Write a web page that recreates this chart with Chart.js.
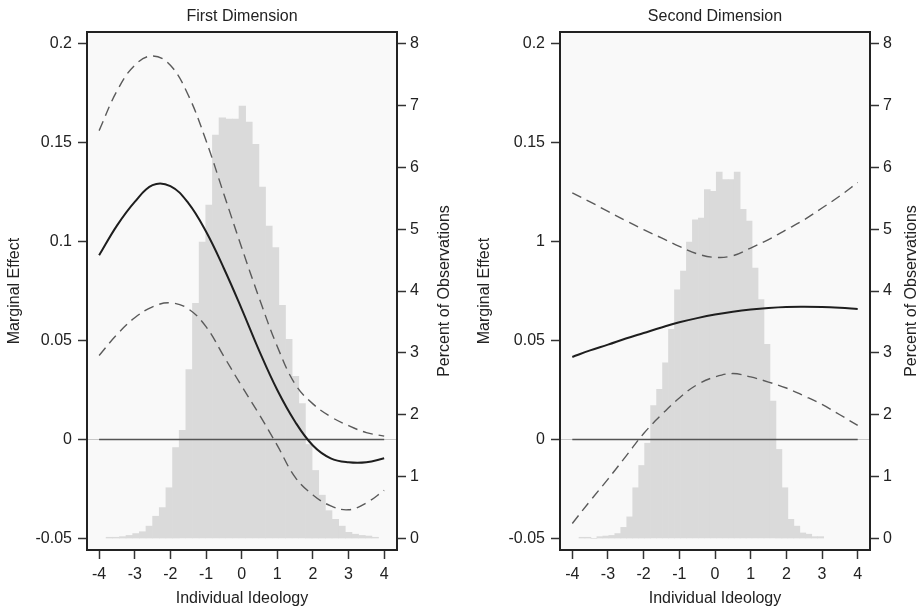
<!DOCTYPE html>
<html>
<head>
<meta charset="utf-8">
<script src="https://cdn.jsdelivr.net/npm/chart.js@4.4.0/dist/chart.umd.min.js"></script>
<style>
  body { margin: 0; background: #fff; width: 922px; height: 613px; overflow: hidden; }
  canvas { position: absolute; top: 0; }
  #chart-first { left: 0; }
  #chart-second { left: 461px; }
</style>
</head>
<body>
<canvas id="chart-first" width="461" height="613"></canvas>
<canvas id="chart-second" width="461" height="613"></canvas>
<script>
// ideology values where the curves were read
const ideology = [-4, -3.5, -3, -2.5, -2, -1.5, -1, -0.5, 0, 0.5, 1, 1.5, 2, 2.5, 3, 3.5, 4]

// first dimension: marginal effect and its bounds
const firstEffect = [0.093, 0.108, 0.120, 0.1285, 0.128, 0.1195, 0.105, 0.0865, 0.066, 0.0445, 0.025, 0.009, -0.003, -0.0095, -0.0115, -0.0115, -0.0095]
const firstUpper = [0.156, 0.176, 0.189, 0.1937, 0.189, 0.174, 0.151, 0.124, 0.097, 0.071, 0.047, 0.028, 0.018, 0.0115, 0.007, 0.0035, 0.0017]
const firstLower = [0.0424, 0.053, 0.0615, 0.067, 0.069, 0.066, 0.057, 0.042, 0.027, 0.0125, -0.003, -0.019, -0.028, -0.0335, -0.0355, -0.032, -0.0257]

// second dimension
const secondEffect = [0.0417, 0.045, 0.0479, 0.051, 0.0538, 0.0566, 0.0592, 0.0613, 0.0631, 0.0645, 0.0656, 0.0664, 0.0669, 0.067, 0.0669, 0.0665, 0.0659]
const secondUpper = [0.1245, 0.120, 0.1152, 0.1105, 0.106, 0.1018, 0.0975, 0.0938, 0.092, 0.0928, 0.0967, 0.101, 0.106, 0.111, 0.1169, 0.123, 0.1298]
const secondLower = [-0.0424, -0.031, -0.020, -0.0085, 0.003, 0.0125, 0.021, 0.0277, 0.0316, 0.0333, 0.0316, 0.029, 0.026, 0.022, 0.0177, 0.0125, 0.0071]

// histograms (bin centres, percent of observations)
const firstBins = [-3.711, -3.525, -3.338, -3.152, -2.965, -2.779, -2.592, -2.406, -2.219, -2.033, -1.846, -1.660, -1.473, -1.287, -1.100, -0.914, -0.727, -0.541, -0.354, -0.168, 0.019, 0.205, 0.392, 0.578, 0.765, 0.951, 1.138, 1.324, 1.511, 1.697, 1.884, 2.070, 2.257, 2.443, 2.630, 2.816, 3.003, 3.189, 3.376, 3.562, 3.749]
const firstPercent = [0.02, 0.02, 0.03, 0.05, 0.08, 0.11, 0.20, 0.36, 0.50, 0.82, 1.47, 1.75, 2.73, 3.80, 4.79, 5.39, 6.52, 6.80, 6.78, 6.78, 6.99, 6.73, 6.37, 5.68, 5.05, 4.70, 3.77, 3.22, 2.62, 2.18, 1.52, 1.10, 0.70, 0.45, 0.31, 0.20, 0.10, 0.07, 0.05, 0.04, 0.02]
const secondBins = [-3.729, -3.562, -3.394, -3.227, -3.060, -2.893, -2.725, -2.558, -2.391, -2.223, -2.056, -1.889, -1.721, -1.554, -1.387, -1.220, -1.052, -0.885, -0.718, -0.550, -0.383, -0.216, -0.048, 0.119, 0.286, 0.454, 0.621, 0.788, 0.955, 1.123, 1.290, 1.457, 1.625, 1.792, 1.959, 2.127, 2.294, 2.461, 2.628, 2.796, 2.963]
const secondPercent = [0.02, 0.02, 0, 0.03, 0.04, 0.05, 0.08, 0.18, 0.35, 0.82, 1.18, 1.54, 2.15, 2.41, 2.84, 3.38, 4.02, 4.32, 4.79, 5.15, 5.18, 5.64, 5.61, 5.92, 5.80, 5.80, 5.92, 5.32, 5.13, 4.37, 3.86, 3.14, 2.22, 1.44, 0.82, 0.31, 0.20, 0.09, 0.07, 0.03, 0.03]

// reference line at zero
const zeroX = [-4, 4]
const zeroY = [0, 0]

// ticks
const xTicks = [-4, -3, -2, -1, 0, 1, 2, 3, 4]
const effectTicks = [-0.05, 0, 0.05, 0.1, 0.15, 0.2]
const firstEffectLabels = ["-0.05", "0", "0.05", "0.1", "0.15", "0.2"]
const secondEffectLabels = ["-0.05", "0", "0.05", "1", "0.15", "0.2"]
const percentTicks = [0, 1, 2, 3, 4, 5, 6, 7, 8]

const FONT = "'Liberation Sans', Arial, Helvetica, sans-serif"
const INK = "#222"

function pts(xs, ys) {
  return xs.map((x, i) => ({ x, y: ys[i] }))
}

const panelDecor = {
  id: "panelDecor",
  beforeDraw(chart) {
    const { ctx, chartArea: a } = chart
    ctx.save()
    ctx.fillStyle = "#f9f9f9"
    ctx.fillRect(a.left, a.top, a.right - a.left, a.bottom - a.top)
    const y0 = chart.scales.y.getPixelForValue(0)
    ctx.strokeStyle = "#c8c8c8"
    ctx.lineWidth = 1
    ctx.beginPath()
    ctx.moveTo(a.left, y0)
    ctx.lineTo(a.right, y0)
    ctx.stroke()
    ctx.restore()
  },
  afterDraw(chart, args, o) {
    const { ctx, chartArea: a } = chart
    ctx.save()
    ctx.strokeStyle = INK
    ctx.lineWidth = 2
    ctx.strokeRect(a.left, a.top, a.right - a.left, a.bottom - a.top)

    ctx.fillStyle = INK
    ctx.font = "16px " + FONT
    ctx.textAlign = "center"
    ctx.textBaseline = "middle"
    const cx = (a.left + a.right) / 2
    const cy = (a.top + a.bottom) / 2
    ctx.fillText(o.title, cx, 17)
    ctx.fillText("Individual Ideology", cx, 599)
    const side = [[o.leftTitleX, "Marginal Effect"], [o.rightTitleX, "Percent of Observations"]]
    for (const [x, text] of side) {
      ctx.save()
      ctx.translate(x, cy)
      ctx.rotate(-Math.PI / 2)
      ctx.fillText(text, 0, 0)
      ctx.restore()
    }
    ctx.restore()
  }
}

const tickGrid = {
  drawOnChartArea: false,
  drawTicks: true,
  tickLength: 9,
  tickWidth: 1.5,
  tickColor: "#333"
}
const tickFont = { family: FONT, size: 16 }

function drawPanel(id, p) {
  const dashed = { type: "line", borderColor: "#5a5a5a", borderWidth: 1.4, borderDash: [10, 6], pointRadius: 0, tension: 0.4, order: 1 }
  new Chart(document.getElementById(id), {
    type: "bar",
    data: {
      datasets: [
        { ...dashed, data: pts(ideology, p.upper) },
        { ...dashed, data: pts(ideology, p.lower) },
        { type: "line", data: pts(ideology, p.effect), borderColor: "#1e1e1e", borderWidth: 2, pointRadius: 0, tension: 0.4, order: 0 },
        { type: "line", data: pts(zeroX, zeroY), borderColor: "#555", borderWidth: 1.5, pointRadius: 0, order: 2 },
        { type: "bar", data: pts(p.bins, p.percent), yAxisID: "y2", backgroundColor: "#dadada", borderWidth: 0, barPercentage: 1, categoryPercentage: 1, order: 3 }
      ]
    },
    options: {
      responsive: false,
      animation: false,
      devicePixelRatio: 1,
      layout: { padding: { top: 32, left: 0, right: 0, bottom: 0 } },
      plugins: {
        legend: { display: false },
        tooltip: { enabled: false },
        panelDecor: { title: p.title, leftTitleX: p.leftTitleX, rightTitleX: p.rightTitleX }
      },
      scales: {
        x: {
          type: "linear", min: p.xMin, max: p.xMax, offset: false,
          afterFit(s) { s.height = 63 },
          afterBuildTicks(s) { s.ticks = xTicks.map(v => ({ value: v })) },
          ticks: { font: tickFont, color: INK, padding: 6, maxRotation: 0, autoSkip: false, callback: v => String(v) },
          grid: { ...tickGrid, offset: false },
          border: { display: false }
        },
        y: {
          type: "linear", position: "left", min: -0.0558, max: 0.2058,
          afterFit(s) { s.width = p.leftWidth },
          afterBuildTicks(s) { s.ticks = effectTicks.map(v => ({ value: v })) },
          ticks: { font: tickFont, color: INK, padding: 6, autoSkip: false, callback: (v, i) => p.effectLabels[i] },
          grid: tickGrid,
          border: { display: false }
        },
        y2: {
          type: "linear", position: "right", min: -0.1856, max: 8.1856,
          afterFit(s) { s.width = p.rightWidth },
          afterBuildTicks(s) { s.ticks = percentTicks.map(v => ({ value: v })) },
          ticks: { font: tickFont, color: INK, padding: 4, autoSkip: false, callback: v => String(v) },
          grid: tickGrid,
          border: { display: false }
        }
      }
    },
    plugins: [panelDecor]
  })
}

drawPanel("chart-first", {
  title: "First Dimension",
  effect: firstEffect, upper: firstUpper, lower: firstLower,
  bins: firstBins, percent: firstPercent,
  effectLabels: firstEffectLabels,
  xMin: -4.34, xMax: 4.36,
  leftWidth: 87, rightWidth: 64,
  leftTitleX: 15, rightTitleX: 445
})

drawPanel("chart-second", {
  title: "Second Dimension",
  effect: secondEffect, upper: secondUpper, lower: secondLower,
  bins: secondBins, percent: secondPercent,
  effectLabels: secondEffectLabels,
  xMin: -4.345, xMax: 4.345,
  leftWidth: 99, rightWidth: 52,
  leftTitleX: 24, rightTitleX: 451
})
</script>
</body>
</html>
